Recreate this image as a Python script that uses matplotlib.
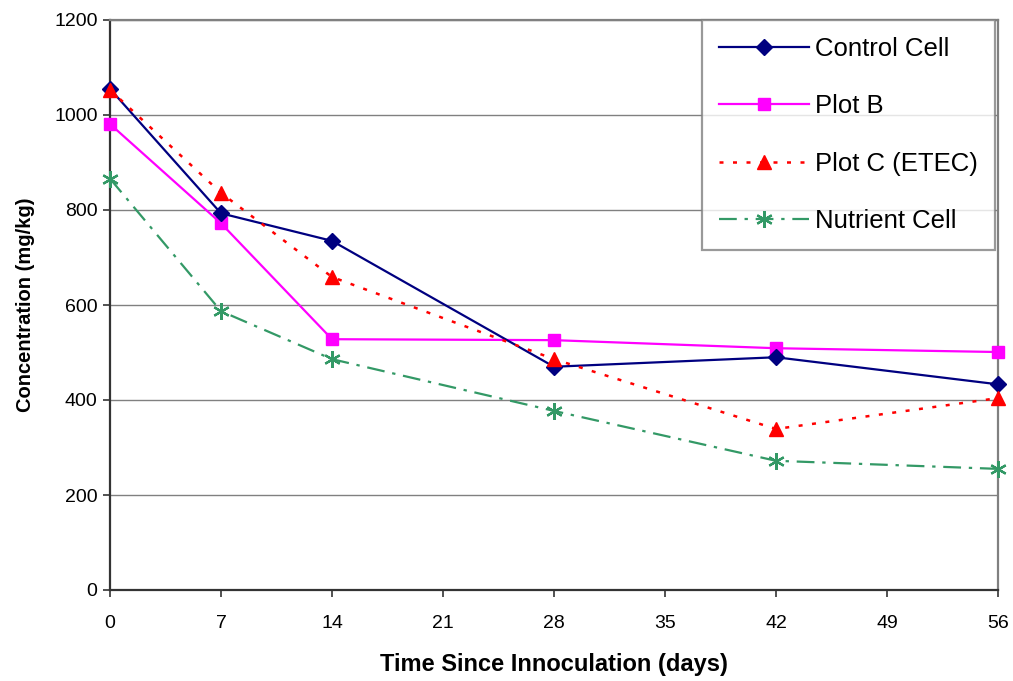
import matplotlib
matplotlib.use("Agg")
import matplotlib.pyplot as plt

plt.rcParams['font.family'] = ['Liberation Sans', 'DejaVu Sans']

days = [0, 7, 14, 28, 42, 56]
control_cell = [1055, 793, 735, 470, 490, 433]
plot_b = [981, 772, 528, 526, 509, 501]
plot_c = [1053, 836, 659, 486, 339, 404]
nutrient_cell = [866, 587, 486, 377, 272, 255]

x_ticks = list(range(0, 57, 7))
y_ticks = list(range(0, 1201, 200))

fig = plt.figure(figsize=(10.13, 6.81), dpi=100)
ax = fig.add_axes([110/1013, 1-590/681, 888/1013, 570/681])

ax.grid(axis='y', color='#808080', linewidth=1.0, zorder=0)
ax.set_axisbelow(True)

ax.plot(days, control_cell, color='#000080', linewidth=1.6, marker='D',
        markersize=8.5, label='Control Cell', zorder=5, clip_on=False)
ax.plot(days, plot_b, color='#FF00FF', linewidth=1.6, marker='s',
        markersize=9, label='Plot B', zorder=4, clip_on=False)
ax.plot(days, plot_c, color='#FF0000', linewidth=1.8, linestyle=(0, (1.6, 3.8)),
        marker='^', markersize=10, label='Plot C (ETEC)', zorder=6, clip_on=False)
ax.plot(days, nutrient_cell, color='#339966', linewidth=1.6,
        linestyle=(0, (8, 3.5, 1.5, 3.5)), marker=(6, 2, 0), markersize=12,
        markeredgewidth=1.6, label='Nutrient Cell', zorder=3, clip_on=False)

ax.set_xlim(0, 56)
ax.set_ylim(0, 1200)
ax.set_xticks(x_ticks)
ax.set_yticks(y_ticks)
ax.tick_params(axis='x', labelsize=14, length=5, width=1.2, pad=13, color='#333333')
ax.tick_params(axis='y', labelsize=14, length=5, width=1.2, pad=4, color='#333333')

for s in ['left', 'bottom']:
    ax.spines[s].set_color('#333333')
    ax.spines[s].set_linewidth(1.6)
for s in ['top', 'right']:
    ax.spines[s].set_color('#808080')
    ax.spines[s].set_linewidth(1.6)

ax.set_xlabel('Time Since Innoculation (days)', fontsize=17, fontweight='bold', labelpad=15)
ax.set_ylabel('Concentration (mg/kg)', fontsize=14.5, fontweight='bold', labelpad=14)

leg = ax.legend(loc='upper right', bbox_to_anchor=(0.9966, 1.0), fontsize=18.5,
                frameon=True, fancybox=False, shadow=False, handlelength=3.5,
                labelspacing=1.3, borderpad=0.65, handletextpad=0.25,
                borderaxespad=0.0)
leg.get_frame().set_edgecolor('#808080')
leg.get_frame().set_linewidth(1.6)

fig.savefig('out.png', dpi=100)
